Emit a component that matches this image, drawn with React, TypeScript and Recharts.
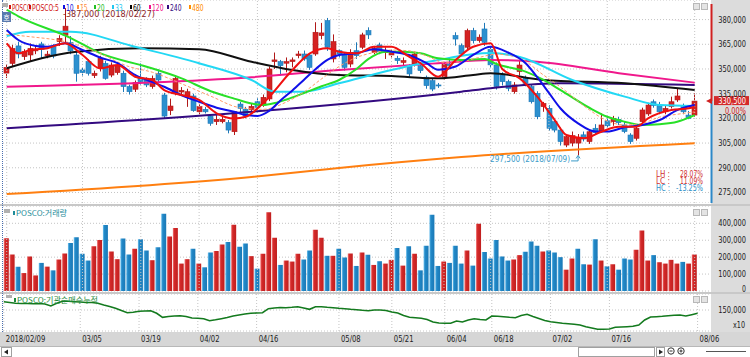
import React from "react";
import {
  ComposedChart,
  Bar,
  Line,
  XAxis,
  YAxis,
  CartesianGrid,
  ReferenceDot,
  ReferenceLine,
  Cell,
} from "recharts";

// ---- data ----
const dates = [
  "02/09","02/12","02/13","02/14","02/19","02/20","02/21","02/22","02/23","02/26","02/27","02/28",
  "03/02","03/05","03/06","03/07","03/08","03/09","03/12","03/13","03/14","03/15","03/16","03/19","03/20","03/21","03/22","03/23","03/26","03/27","03/28","03/29","03/30",
  "04/02","04/03","04/04","04/05","04/06","04/09","04/10","04/11","04/12","04/13","04/16","04/17","04/18","04/19","04/20","04/23","04/24","04/25","04/26","04/27","04/30",
  "05/02","05/03","05/04","05/08","05/09","05/10","05/11","05/14","05/15","05/16","05/17","05/18","05/21","05/23","05/24","05/25","05/28","05/29","05/30","05/31",
  "06/01","06/04","06/05","06/07","06/08","06/11","06/12","06/14","06/15","06/18","06/19","06/20","06/21","06/22","06/25","06/26","06/27","06/28","06/29",
  "07/02","07/03","07/04","07/05","07/06","07/09","07/10","07/11","07/12","07/13","07/16","07/17","07/18","07/19","07/20","07/23","07/24","07/25","07/26","07/27","07/30","07/31",
  "08/01","08/02","08/03","08/06",
];

const xLabels = ["02/09","03/05","03/19","04/02","04/16","05/08","05/21","06/04","06/18","07/02","07/16","08/06"];

const opens = [347500,353400,364000,357500,358500,361000,365200,358000,363500,366600,
  370500,366000,358500,349400,354500,346000,350400,353400,346300,347800,
  347400,339300,337700,344300,343300,339300,347400,334200,324700,335200,
  336000,333600,333600,324000,325500,321400,318000,318000,317400,311900,
  328700,325500,325300,330100,328700,331800,354500,354500,353500,354500,
  358100,359100,358500,359100,370300,379400,356100,361100,359100,353000,
  361100,363200,373300,360100,364600,359900,358500,356500,354000,352000,
  353000,352000,345000,342900,340300,345000,353000,370300,364200,363200,
  373300,367200,374300,362000,352400,346300,342300,336200,348400,344300,
  339300,335200,327100,326100,318000,312900,303800,305000,305000,310000,
  305900,314000,311900,318500,318000,319400,316000,309900,307900,318000,
  322700,330100,328100,324000,327100,331200,327100,322000,322000];

const highs = [353000,364600,366600,362000,365500,364000,366500,361000,365000,370500,
  387000,370000,360500,351000,356000,349000,358000,355000,354000,354000,
  349000,340500,343000,353400,345000,346000,349800,335500,332000,346000,
  339000,338000,335000,328500,327000,322500,322000,321000,319000,324000,
  330000,327000,329000,332200,334500,351500,360000,355500,357000,357000,
  361000,361200,359500,378400,378000,381000,371000,362000,360000,362000,
  366200,372000,375300,364000,366000,363200,361500,358000,357000,353000,
  360500,354000,346000,344000,341500,354000,357000,372300,365500,374500,
  375000,371000,378000,364000,354000,348000,343500,342000,355000,346000,
  340500,336500,330000,328000,319500,314500,310500,312000,310500,312000,
  313500,316500,323000,321000,321500,321000,318000,311000,315500,326500,
  329500,331500,330000,327500,333200,338300,329000,324500,335200];

const lows = [344500,351800,356500,355500,354500,359000,356500,356500,356500,364000,
  366000,359000,342300,346000,346000,344500,348500,343500,345000,346500,
  336000,334500,336000,340500,339000,338000,342000,320000,322000,334000,
  334000,327000,324000,322500,323000,315500,316000,317000,310900,309900,
  323500,320000,323500,325500,327000,330500,350000,346000,348000,351000,
  356500,355000,349500,358000,368000,361000,354000,357000,349000,351000,
  356100,362000,368200,359000,359000,356100,357000,353000,352000,345000,
  351500,347500,338000,336500,338500,343500,350500,364200,358000,362000,
  365500,366000,364000,350500,337500,340000,336500,335000,346000,339500,
  329000,319500,324000,312500,311500,303500,302500,303000,297500,306000,
  304500,310000,311500,314500,315500,316000,311000,304500,306500,317000,
  321500,326500,322500,322500,326000,330000,322500,319500,321000];

const closes = [351000,362500,359100,360500,362500,362000,362000,359000,357900,368600,
  376000,361000,347400,347800,347400,347400,356500,344300,352400,352400,
  339300,336200,341700,342300,340300,344300,343300,321400,327500,344300,
  337000,336200,324700,327100,324000,317000,319400,319400,312900,324000,
  326100,321400,327300,326700,332800,350000,355500,352000,354500,355500,
  359100,356100,351000,372300,371900,363200,366600,359100,351000,360100,
  358100,370700,370700,362600,360500,360500,360100,355100,355100,347000,
  359100,349000,339900,337800,339900,353000,352000,368200,359100,373300,
  367200,369300,366200,352500,339300,342300,338200,340300,352400,341300,
  330100,321000,329100,314000,312900,305900,308900,309500,308300,307500,
  311900,311300,316000,315500,320000,317400,312000,305900,314000,325100,
  328100,327800,324000,326100,330100,333600,324000,320000,330500];

// volume in shares (thousands)
const volumes = [312,216,144,106,204,92,166,144,122,186,
  222,284,318,220,180,264,302,390,234,188,
  310,216,250,306,240,182,258,456,322,372,
  162,188,250,162,140,228,236,274,290,392,
  262,280,206,132,220,466,314,154,180,174,
  220,186,240,362,314,208,208,250,198,222,
  148,228,214,154,176,162,184,254,150,264,
  220,122,268,450,148,174,166,268,162,240,
  150,398,230,192,302,204,180,186,212,232,
  292,268,234,240,228,200,126,192,250,158,
  156,306,180,146,158,126,192,186,244,358,
  180,212,170,162,184,162,172,162,216];

// u = red bar, d = blue bar (change vs previous day)
const volDir = (
  "uuduuududu" + "udddduuduu" + "dduddudduu" + "uududduudu" + "dduduuuduu" +
  "udduududdu" + "dududuudud" + "uddddudddu" + "duddddduud" + "dduddduudd" +
  "udududdduu" + "uduuuuduu"
).split("");

// 기관순매수누적 (x10)
const inst = [183200,180000,176800,176000,176000,175200,176000,174000,166000,176800,
  184800,184800,183200,182000,180000,180000,176800,170000,164000,156800,
  148000,139200,140800,144800,146000,147200,136800,120800,124000,126000,
  127200,124000,118000,116800,115200,107200,110800,115200,120000,126000,
  130000,134000,136800,138000,139200,155200,158000,160000,159200,160800,
  163200,158000,152800,163200,163200,160800,159200,156800,155200,152800,
  151200,148800,147200,150000,150000,148000,142000,138000,128000,120800,
  119200,116800,112000,102000,98000,96800,96800,106000,102000,110000,
  115200,112000,110000,126000,124800,123200,120800,119200,128000,132800,
  124000,116000,108000,103200,100000,96800,95200,92800,90000,83200,
  78000,72800,72800,74000,80800,82000,83200,84800,90000,110000,
  122000,123200,124800,127200,128800,130000,126000,131200,136800];

// moving averages read at sample bars: [bar index, price]
const ma5Pts = [[0,365600],[2,359500],[4,361500],[7,362600],[10,365600],[13,358500],[16,350400],[19,352400],[22,345300],[25,343300],[27,337200],[30,334200],[33,331200],[36,323100],[39,320000],[41,321000],[44,329300],[49,349400],[52,359500],[55,362600],[57,360500],[60,359500],[63,363500],[66,363500],[69,357500],[71,353500],[74,345300],[77,355500],[80,363500],[83,365600],[85,350000],[88,344300],[91,333200],[94,319000],[96,309900],[99,307900],[102,311900],[105,314900],[108,314900],[110,320000],[114,325100],[117,326100],[118,327100]];
const ma10Pts = [[0,373700],[2,367600],[5,364000],[7,363500],[10,365600],[13,361500],[16,357000],[19,353500],[22,346400],[25,342000],[27,339200],[30,334000],[33,330100],[36,326500],[39,324000],[41,322000],[43,321500],[45,324500],[47,331000],[49,337000],[51,343500],[53,350000],[55,355500],[57,358500],[60,359500],[63,362000],[66,360500],[69,358500],[72,353500],[74,349500],[77,351500],[80,358500],[83,363500],[86,360000],[89,353500],[91,345000],[93,335500],[95,326000],[98,317000],[101,312000],[103,312000],[106,314600],[109,316000],[112,319000],[115,325000],[118,328100]];
const ma15Pts = [[0,371000],[4,369600],[10,366600],[15,361000],[21,351400],[25,348000],[30,341000],[35,333500],[40,326500],[44,325500],[48,330000],[51,336000],[54,344000],[57,351500],[60,357000],[63,360000],[66,361500],[69,361000],[72,358000],[75,354000],[78,354500],[81,357000],[84,359000],[88,356500],[92,346500],[95,339000],[100,325000],[103,318500],[106,316000],[109,317000],[112,320800],[115,322500],[118,323900]];
const ma20Pts = [[0,386000],[2,382000],[11,368800],[16,359600],[24,351400],[30,344300],[35,336500],[39,332000],[42,329000],[44,328100],[46,329300],[48,331500],[51,335400],[54,339500],[57,343300],[60,350000],[62,356000],[65,360500],[68,360500],[71,359500],[74,356500],[78,355500],[82,356000],[84,353000],[89,348400],[92,343500],[95,337200],[100,326300],[103,321000],[106,318000],[109,316000],[112,316500],[115,318000],[118,322000]];
const ma33Pts = [[0,370000],[4,372600],[11,372600],[22,363500],[33,353500],[42,343300],[46,336200],[51,336200],[57,341300],[66,349400],[74,355500],[83,359700],[88,357300],[97,343300],[106,333200],[112,328100],[118,327500]];
const ma60Pts = [[0,350400],[12,360500],[23,362600],[33,362000],[42,354400],[49,349400],[57,346300],[66,345700],[74,344300],[80,346300],[83,347400],[92,343300],[106,341300],[118,337200]];
const ma120Pts = [[0,339200],[42,345000],[57,349400],[74,353500],[83,355500],[91,354400],[105,347400],[118,341700]];
const ma240Pts = [[0,314000],[42,324000],[78,336200],[83,338300],[95,341300],[118,340300]];
const ma480Pts = [[0,274000],[42,284400],[57,289900],[78,296500],[118,304900]];

const priceTicks = [275000, 290000, 305000, 320000, 335000, 350000, 365000, 380000];
const volTicks = [0, 100000, 200000, 300000, 400000];
const instTicks = [150000];

const legendNames = ["POSCO", "POSCO:5", "10", "15", "20", "33", "60", "120", "240", "480"];

// ---- styles ----
const FONT = "'Liberation Sans Narrow','DejaVu Sans Condensed','Liberation Sans',sans-serif";
const KFONT = "'Noto Sans CJK KR','Liberation Sans',sans-serif";
const CH = 3.95; // px per character of the chart's narrow font
const RED = "#D42222";
const BLUE = "#2C90CF";
const GRID = "#C4C4C4";
const maStyle: Record<string, { color: string; width: number; dash?: string }> = {
  ma480: { color: "#FF7F10", width: 2 },
  ma240: { color: "#330A80", width: 2 },
  ma120: { color: "#F0188C", width: 2 },
  ma60: { color: "#101010", width: 2 },
  ma33: { color: "#22D8F4", width: 2 },
  ma20: { color: "#28E028", width: 2 },
  ma15: { color: "#FF9966", width: 1, dash: "3 2" },
  ma10: { color: "#1010E8", width: 2 },
  ma5: { color: "#F01010", width: 2 },
};
const legendColors = ["#D01010", "#D01010", "#1010E0", "#FF8C40", "#22C022", "#22C8F0", "#000000", "#F0108C", "#330A80", "#FF8C00"];
const legendX = [12, 32, 66, 80, 97, 115, 133, 152, 170, 192];

const pick = (pts: number[][], k: number) => {
  const f = pts.find((p) => p[0] === k);
  return f ? f[1] : null;
};

const rows = dates.map((d, k) => ({
  date: d,
  open: opens[k],
  high: highs[k],
  low: lows[k],
  close: closes[k],
  range: [lows[k], highs[k]],
  vol: volumes[k] * 1000,
  up: volDir[k] === "u",
  inst: inst[k],
  ma5: pick(ma5Pts, k),
  ma10: pick(ma10Pts, k),
  ma15: pick(ma15Pts, k),
  ma20: pick(ma20Pts, k),
  ma33: pick(ma33Pts, k),
  ma60: pick(ma60Pts, k),
  ma120: pick(ma120Pts, k),
  ma240: pick(ma240Pts, k),
  ma480: pick(ma480Pts, k),
}));

const fmt = (v: number) => v.toLocaleString("en-US");

// narrow text, squeezed to the width of the chart's bitmap font
const T = ({ x, y, s, fill = "#222", anchor = "start", w, font = FONT, size = 8 }: any) => (
  <text
    x={x}
    y={y}
    fill={fill}
    textAnchor={anchor}
    fontSize={size}
    textLength={w ?? s.length * CH}
    lengthAdjust="spacingAndGlyphs"
    style={{ fontFamily: font, fontStretch: "condensed" }}
  >
    {s}
  </text>
);

const vLines = () =>
  xLabels.map((d) => (
    <ReferenceLine key={d} x={d} stroke={GRID} strokeDasharray="1 2" ifOverflow="visible" />
  ));

const RightTick = ({ y, payload }: any) => (
  <T x={746} y={payload.value === 0 ? y + 1 : y + 3} anchor="end" s={fmt(payload.value)} />
);

const XTick = ({ x, payload }: any) => (
  <T x={x + 2} y={48} s={payload.value === "02/09" ? "2018/02/09" : payload.value} />
);

const Candle = (props: any) => {
  const { x, y, width, height, payload } = props;
  if (!payload || height == null || isNaN(height)) return null;
  const { open, close, high, low } = payload;
  const up = close >= open;
  const ppx = height / (high - low || 1);
  const yO = y + (high - open) * ppx;
  const yC = y + (high - close) * ppx;
  const top = Math.min(yO, yC);
  const bh = Math.max(1, Math.abs(yO - yC));
  const cx = Math.round(x + width / 2) + 0.5;
  const edge = up ? "#B01818" : "#1E78B8";
  return (
    <g>
      <line x1={cx} x2={cx} y1={y} y2={y + height} stroke={edge} strokeWidth={1} />
      <rect x={cx - 2.5} y={top} width={5} height={bh} fill={up ? RED : BLUE} stroke={edge} strokeWidth={0.6} />
    </g>
  );
};

const MaxMark = ({ cx, cy }: any) => <T x={cx - 2} y={cy + 8.5} fill="#8A1E1E" s="-387,000 (2018/02/27)" w={92} />;

const MinMark = ({ cx, cy }: any) => (
  <g>
    <T x={cx - 8} y={cy + 7} anchor="end" fill="#3A9AC8" s="297,500 (2018/07/09)" w={80} />
    <path d={`M${cx - 7},${cy + 5.5} H${cx} V${cy + 1}`} stroke="#3A9AC8" fill="none" strokeWidth={1} />
    <path d={`M${cx - 2},${cy + 3} L${cx},${cy} L${cx + 2},${cy + 3}`} stroke="#3A9AC8" fill="none" strokeWidth={1} />
  </g>
);

const LastMark = ({ cy }: any) => (
  <g>
    <line x1={711.5} x2={711.5} y1={4} y2={cy} stroke="#D02020" strokeWidth={2} />
    <line x1={711.5} x2={711.5} y1={cy} y2={204} stroke="#2C88C8" strokeWidth={2} />
    <path d={`M706,${cy} L712,${cy - 3} L712,${cy + 3} Z`} fill="#D02020" />
    <rect x={714} y={cy - 5} width={35} height={9} fill="#D42A2A" />
    <T x={746} y={cy + 3} anchor="end" fill="#fff" s="330,500" />
    <T x={746} y={cy + 12.5} anchor="end" fill="#D02020" s="0.00%" w={21} />
  </g>
);

const margin = { top: 0, right: 0, bottom: 0, left: 3 };
const xPad = { left: 0.8, right: 12.4 };

const rightAxis = {
  orientation: "right" as const,
  width: 40,
  allowDataOverflow: true,
  interval: 0,
  axisLine: false,
  tickLine: false,
  tick: <RightTick />,
};

function PriceChart() {
  const maKeys = ["ma480", "ma240", "ma120", "ma60", "ma33", "ma20", "ma15", "ma10", "ma5"];
  return (
    <ComposedChart width={750} height={203} data={rows} margin={margin}>
      <CartesianGrid stroke={GRID} strokeDasharray="1 2" vertical={false} />
      <XAxis dataKey="date" hide padding={xPad} />
      <YAxis {...rightAxis} domain={[268600, 391900]} ticks={priceTicks} />
      {vLines()}
      <Bar dataKey="range" barSize={5} shape={<Candle />} isAnimationActive={false} />
      {maKeys.map((k) => (
        <Line
          key={k}
          dataKey={k}
          type="monotone"
          connectNulls
          dot={false}
          stroke={maStyle[k].color}
          strokeWidth={maStyle[k].width}
          strokeDasharray={maStyle[k].dash}
          isAnimationActive={false}
        />
      ))}
      <ReferenceDot x="02/27" y={387000} r={0} shape={MaxMark} />
      <ReferenceDot x="07/09" y={297500} r={0} shape={MinMark} />
      <ReferenceDot x="08/06" y={330500} r={0} shape={LastMark} />
    </ComposedChart>
  );
}

function VolumeChart() {
  // 3px of bottom margin leaves room for the "0" label below the plot
  return (
    <ComposedChart width={750} height={88} data={rows} margin={{ ...margin, bottom: 3 }}>
      <defs>
        <linearGradient id="volUp" x1="0" x2="1" y1="0" y2="0">
          <stop offset="0" stopColor="#F27A7A" />
          <stop offset="0.3" stopColor="#D42A2A" />
          <stop offset="1" stopColor="#C01E1E" />
        </linearGradient>
        <linearGradient id="volDown" x1="0" x2="1" y1="0" y2="0">
          <stop offset="0" stopColor="#72C2EE" />
          <stop offset="0.3" stopColor="#2289C8" />
          <stop offset="1" stopColor="#1A78B6" />
        </linearGradient>
      </defs>
      <CartesianGrid stroke={GRID} strokeDasharray="1 2" vertical={false} />
      <XAxis dataKey="date" hide padding={xPad} />
      <YAxis {...rightAxis} domain={[0, 502200]} ticks={volTicks} />
      {vLines()}
      <Bar dataKey="vol" barSize={5} isAnimationActive={false}>
        {rows.map((r, i) => (
          <Cell key={i} fill={r.up ? "url(#volUp)" : "url(#volDown)"} />
        ))}
      </Bar>
    </ComposedChart>
  );
}

function InstChart() {
  return (
    <ComposedChart width={750} height={52} data={rows} margin={margin}>
      <CartesianGrid stroke={GRID} strokeDasharray="1 2" vertical={false} />
      <XAxis
        dataKey="date"
        padding={xPad}
        ticks={xLabels}
        interval={0}
        height={15}
        axisLine={false}
        tickLine={false}
        tick={<XTick />}
      />
      <YAxis {...rightAxis} domain={[66000, 214000]} ticks={instTicks} />
      {vLines()}
      <Line dataKey="inst" type="linear" dot={false} stroke="#137A1E" strokeWidth={1.6} isAnimationActive={false} />
    </ComposedChart>
  );
}

const abs = (s: React.CSSProperties): React.CSSProperties => ({ position: "absolute", ...s });

function PanelIcons({ y }: { y: number }) {
  return (
    <g fill="#E4E4E4" stroke="#B8B8B8">
      <rect x={693.5} y={y + 0.5} width={6} height={6} />
      <rect x={701.5} y={y + 0.5} width={6} height={6} />
    </g>
  );
}

function Overlay() {
  return (
    <svg width={750} height={357} style={abs({ left: 0, top: 0, pointerEvents: "none" })}>
      {/* price panel legend */}
      <rect x={2} y={3} width={6} height={4} fill="#B0B0B0" />
      {legendNames.map((n, i) => (
        <g key={n}>
          <rect x={legendX[i] - 3} y={5} width={2} height={4} fill={legendColors[i]} />
          <T x={legendX[i]} y={10.5} fill={legendColors[i]} s={n} w={n.length * 3.85} />
        </g>
      ))}
      <rect x={2} y={12} width={9} height={10} fill="#5A7AAE" />
      <text x={6.5} y={20} fontSize={7} fill="#fff" textAnchor="middle" style={{ fontFamily: KFONT }}>
        호
      </text>
      <PanelIcons y={3} />

      {/* range statistics */}
      <T x={656} y={177} fill="#D03030" s="LH :" w={14} />
      <T x={703} y={177} anchor="end" fill="#D03030" s="28.07%" w={23} />
      <T x={656} y={183.5} fill="#D03030" s="LC :" w={14} />
      <T x={703} y={183.5} anchor="end" fill="#D03030" s="11.09%" w={23} />
      <T x={656} y={191} fill="#2C90C8" s="HC :" w={14} />
      <T x={703} y={191} anchor="end" fill="#2C90C8" s="-13.25%" w={27} />

      {/* volume panel legend */}
      <rect x={4} y={209} width={6} height={4} fill="#B0B0B0" />
      <rect x={13} y={211} width={2} height={4} fill="#1E8C9A" />
      <T x={16} y={216} fill="#1E8C9A" s="POSCO:거래량" w={51} font={KFONT} size={7.5} />
      <PanelIcons y={209} />

      {/* institution panel legend */}
      <rect x={6} y={295} width={6} height={3} fill="#B0B0B0" />
      <rect x={14} y={298} width={2} height={4} fill="#1E8B3C" />
      <T x={17} y={303} fill="#1E8B3C" s="POSCO:기관순매수누적" w={81} font={KFONT} size={7.5} />
      <PanelIcons y={296} />
      <T x={745} y={328} anchor="end" s="x10" w={12} />

      {/* bottom control strip */}
      <line x1={0} x2={750} y1={346.5} y2={346.5} stroke="#B8B8B8" />
      <rect x={1.5} y={347.5} width={10} height={9} fill="#fff" stroke="#A0A0A0" />
      <path d="M8,349.5 L4,352 L8,354.5 Z" fill="#222" />
      <rect x={578.5} y={347.5} width={76} height={9} fill="#fff" stroke="#A0A0A0" />
      <rect x={656.5} y={347.5} width={8} height={9} fill="#fff" stroke="#A0A0A0" />
      <path d="M659,349.5 L663,352 L659,354.5 Z" fill="#222" />
      <circle cx={671} cy={351} r={3.2} fill="none" stroke="#333" />
      <line x1={669.5} x2={672.5} y1={351} y2={351} stroke="#333" />
      <circle cx={681} cy={351} r={3.2} fill="none" stroke="#333" />
      <line x1={679.5} x2={682.5} y1={351} y2={351} stroke="#333" />
      <line x1={681} x2={681} y1={349.5} y2={352.5} stroke="#333" />
      <line x1={706} x2={746} y1={351.5} y2={351.5} stroke="#555" />
    </svg>
  );
}

export default function App() {
  return (
    <div style={{ position: "relative", width: 750, height: 357, background: "#fff", overflow: "hidden", fontFamily: FONT }}>
      <style>{"body{margin:0}"}</style>
      <div style={abs({ left: 711, top: 0, width: 39, height: 332, background: "#DCDCDC" })} />
      <div style={abs({ left: 0, top: 204, width: 750, height: 2, background: "#C8C8C8" })} />
      <div style={abs({ left: 0, top: 292, width: 750, height: 2, background: "#C8C8C8" })} />
      <div style={abs({ left: 0, top: 332, width: 750, height: 14, background: "#D6D6D6" })} />
      <div style={abs({ left: 2, top: 0, width: 0, height: 332, borderLeft: "1px dotted #4A6FB0" })} />

      <div style={abs({ left: 0, top: 0 })}>
        <PriceChart />
      </div>
      <div style={abs({ left: 0, top: 294 })}>
        <InstChart />
      </div>
      <div style={abs({ left: 0, top: 206 })}>
        <VolumeChart />
      </div>
      <Overlay />
    </div>
  );
}
